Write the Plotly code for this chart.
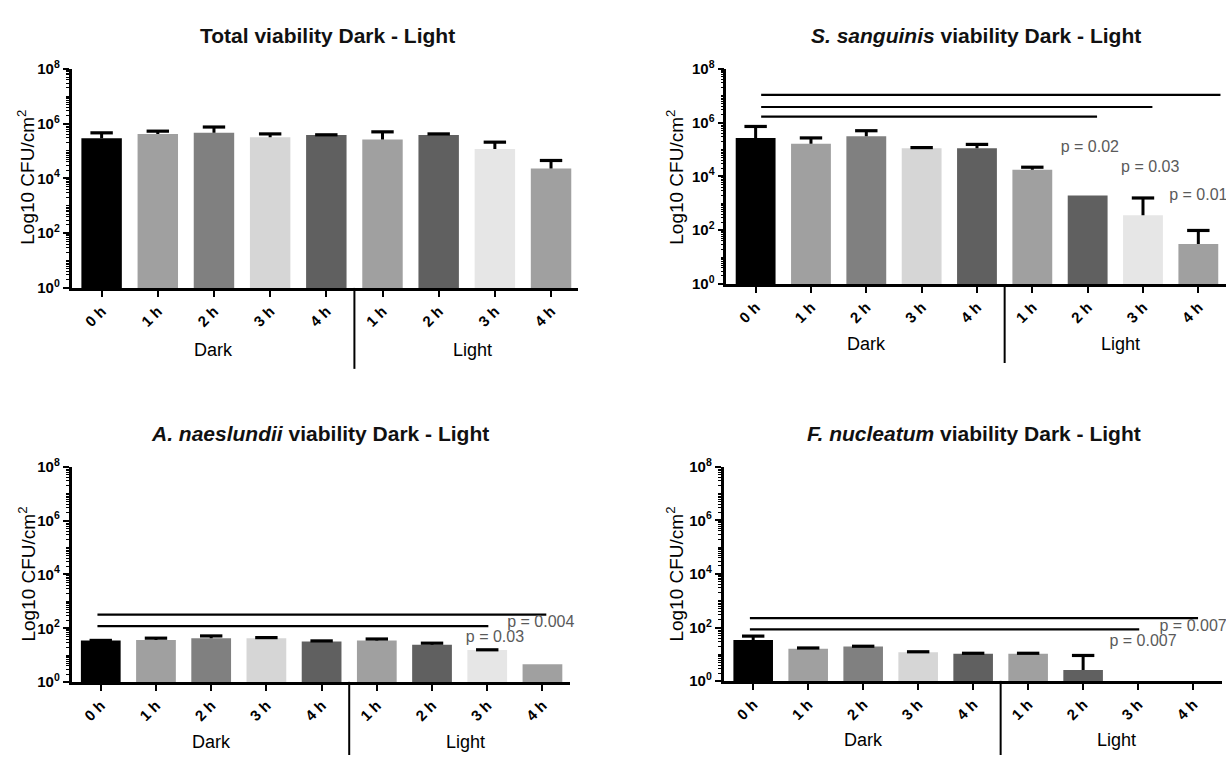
import plotly.graph_objects as go

W, H = 1226, 763
FONT = "Liberation Sans, Arial, sans-serif"

# ---------------- data ----------------
tick_labels = ["0 h", "1 h", "2 h", "3 h", "4 h", "1 h", "2 h", "3 h", "4 h"]
groups = ["Dark", "Light"]
bar_colors = ["#000000", "#a0a0a0", "#808080", "#d6d6d6", "#606060",
              "#a0a0a0", "#606060", "#e6e6e6", "#a0a0a0"]

total_mean = [2.9e5, 4.2e5, 4.6e5, 3.2e5, 3.8e5, 2.6e5, 3.8e5, 1.17e5, 2.3e4]
total_err = [1.7e5, 1.1e5, 2.9e5, 1.0e5, 0.1e5, 2.4e5, 0.4e5, 0.93e5, 2.2e4]

ss_mean = [2.7e5, 1.65e5, 3.1e5, 1.12e5, 1.12e5, 1.78e4, 1.94e3, 3.6e2, 31]
ss_err = [4.5e5, 1.05e5, 1.9e5, 0.06e5, 0.43e5, 0.42e4, 0, 1.22e3, 67]

an_mean = [35, 37, 43, 43, 32, 35, 24.5, 15.6, 4.6]
an_err = [0.5, 6, 9, 2, 2, 5, 3.5, 0.3, 0]

fn_mean = [34.5, 16.3, 19.6, 12, 10.5, 10.5, 2.6, None, None]
fn_err = [13.5, 1, 0.5, 0.5, 0.5, 0.5, 6.5, 0, 0]

# significance bars: (start category, end category, height)
ss_sig = [(0.1, 6.17, 1.66e6), (0.1, 7.17, 3.8e6), (0.1, 8.4, 1.07e7)]
an_sig = [(-0.06, 8.07, 324), (-0.06, 7.02, 120)]
fn_sig = [(-0.06, 8.09, 224), (-0.06, 7.02, 85)]

# p-value labels: (text, category position, height)
ss_p = [("p = 0.02", 6.04, 1.17e5), ("p = 0.03", 7.13, 2.0e4), ("p = 0.01", 8.0, 1.94e3)]
an_p = [("p = 0.004", 7.97, 155), ("p = 0.03", 7.14, 42.7)]
fn_p = [("p = 0.007", 8.0, 105), ("p = 0.007", 7.09, 30)]

titles = ["<b>Total viability Dark - Light</b>",
          "<b><i>S. sanguinis</i> viability Dark - Light</b>",
          "<b><i>A. naeslundii</i> viability Dark - Light</b>",
          "<b><i>F. nucleatum</i> viability Dark - Light</b>"]

panels = [
    dict(mean=total_mean, err=total_err, sig=[], p=[]),
    dict(mean=ss_mean, err=ss_err, sig=ss_sig, p=ss_p),
    dict(mean=an_mean, err=an_err, sig=an_sig, p=an_p),
    dict(mean=fn_mean, err=fn_err, sig=fn_sig, p=fn_p),
]

# ---------------- layout geometry (pixels) ----------------
geo = [
    dict(x0=71.5, x1=578, ybot=284, ytop=59.3, rng=[-0.536, 8.48],
         title=(327, 25), ytitle=(26, 171), glab_y=348, sep=(284, 367)),
    dict(x0=726.3, x1=1226, ybot=280, ytop=59.3, rng=[-0.53, 8.5],
         title=(976, 25), ytitle=(675, 171), glab_y=342, sep=(280, 361)),
    dict(x0=71.5, x1=569.5, ybot=688.3, ytop=467.3, rng=[-0.53, 8.49],
         title=(320, 433), ytitle=(27, 578), glab_y=750, sep=(688, 763)),
    dict(x0=723.5, x1=1221.7, ybot=687.3, ytop=467.3, rng=[-0.54, 8.52],
         title=(974, 433), ytitle=(675, 578), glab_y=748, sep=(687, 763)),
]
group_pos = [2.0, 6.6]

fig = go.Figure()
xs = list(range(len(tick_labels)))

for i, (pan, g) in enumerate(zip(panels, geo)):
    k = "" if i == 0 else str(i + 1)
    xa, ya = "x" + k, "y" + k
    fig.add_trace(go.Bar(
        x=xs, y=pan["mean"], xaxis=xa, yaxis=ya, width=0.72,
        marker=dict(color=bar_colors, line=dict(width=0)),
        error_y=dict(type="data", symmetric=False, array=pan["err"],
                     arrayminus=[0] * len(xs), color="black", thickness=3, width=0),
        showlegend=False, hoverinfo="skip"))
    caps = [(m + e) if (m is not None and e > 0) else None
            for m, e in zip(pan["mean"], pan["err"])]
    fig.add_trace(go.Scatter(
        x=xs, y=caps, xaxis=xa, yaxis=ya, mode="markers",
        marker=dict(symbol="line-ew", size=16, color="black",
                    line=dict(width=3.2, color="black")),
        showlegend=False, hoverinfo="skip", cliponaxis=False))
    for (a, b, h) in pan["sig"]:
        fig.add_trace(go.Scatter(x=[a, b], y=[h, h], xaxis=xa, yaxis=ya, mode="lines",
                                 line=dict(color="black", width=2.2), showlegend=False,
                                 hoverinfo="skip", cliponaxis=False))
    if pan["p"]:
        fig.add_trace(go.Scatter(
            x=[p[1] for p in pan["p"]], y=[p[2] for p in pan["p"]], xaxis=xa, yaxis=ya,
            mode="text", text=[p[0] for p in pan["p"]], textposition="middle center",
            textfont=dict(family=FONT, size=16, color="#5a5a5a"),
            showlegend=False, hoverinfo="skip", cliponaxis=False))

    xdom = [g["x0"] / W, g["x1"] / W]
    ydom = [1 - g["ybot"] / H, 1 - g["ytop"] / H]
    xkey = "xaxis" + k
    ykey = "yaxis" + k
    fig.layout[xkey] = dict(
        domain=xdom, anchor=ya, range=g["rng"], tickmode="array", tickvals=xs,
        ticktext=tick_labels, tickangle=-45, showline=True, linecolor="black",
        linewidth=2.5, ticks="outside", ticklen=6, tickwidth=2, tickcolor="black",
        showgrid=False, zeroline=False, fixedrange=True,
        tickfont=dict(family=FONT, size=15, color="black", weight="bold"))
    fig.layout[ykey] = dict(
        domain=ydom, anchor=xa, type="log", range=[0, 8],
        tickmode="array", tickvals=[1, 1e2, 1e4, 1e6, 1e8],
        ticktext=["10<sup>0</sup>", "10<sup>2</sup>", "10<sup>4</sup>",
                  "10<sup>6</sup>", "10<sup>8</sup>"],
        showline=True, linecolor="black", linewidth=2.5, ticks="outside",
        ticklen=6, tickwidth=2, tickcolor="black", showgrid=False, zeroline=False,
        minor=dict(ticks="outside", ticklen=3, tickwidth=1, tickcolor="black",
                   dtick="D1", showgrid=False),
        tickfont=dict(family=FONT, size=15, color="black", weight="bold"))

    # separator between groups
    fig.add_shape(type="line", xref=xa, yref="paper", x0=4.5, x1=4.5,
                  y0=1 - g["sep"][0] / H, y1=1 - g["sep"][1] / H,
                  line=dict(color="black", width=2))
    for gname, gx in zip(groups, group_pos):
        fig.add_annotation(x=gx, xref=xa, y=1 - g["glab_y"] / H, yref="paper",
                           text=gname, showarrow=False, xanchor="center", yanchor="middle",
                           font=dict(family=FONT, size=18, color="black"))
    fig.add_annotation(x=g["title"][0] / W, y=1 - g["title"][1] / H, xref="paper",
                       yref="paper", text=titles[i], showarrow=False, xanchor="center",
                       yanchor="middle", font=dict(family=FONT, size=21, color="#111111"))
    fig.add_annotation(x=g["ytitle"][0] / W, y=1 - g["ytitle"][1] / H, xref="paper",
                       yref="paper", text="Log10 CFU/cm<sup>2</sup>", textangle=-90,
                       showarrow=False, xanchor="center", yanchor="middle",
                       font=dict(family=FONT, size=19, color="black"))

fig.update_layout(width=W, height=H, margin=dict(l=0, r=0, t=0, b=0),
                  paper_bgcolor="white", plot_bgcolor="white", bargap=0.28,
                  showlegend=False)
fig.write_html("out.html")
